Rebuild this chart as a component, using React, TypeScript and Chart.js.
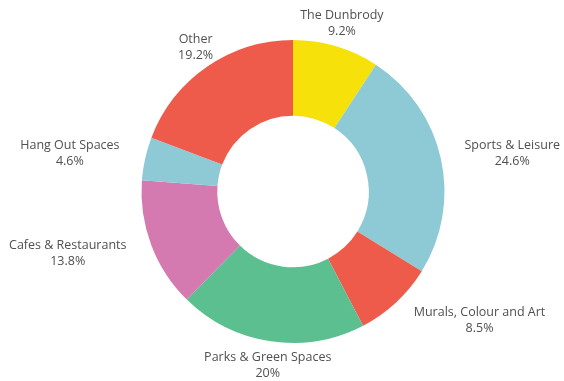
import React, { useEffect, useRef } from "react";
import { Chart, registerables } from "chart.js";

Chart.register(...registerables);

const categories = [
  "The Dunbrody",
  "Sports & Leisure",
  "Murals, Colour and Art",
  "Parks & Green Spaces",
  "Cafes & Restaurants",
  "Hang Out Spaces",
  "Other",
];
const values = [9.2, 24.6, 8.5, 20, 13.8, 4.6, 19.2];
const colors = ["#F6E10B", "#8DCAD5", "#EF5B4A", "#5BBF8F", "#D57AB0", "#8DCAD5", "#EF5B4A"];

const FONT = "'Open Sans', 'DejaVu Sans', sans-serif";

const outsideLabels = {
  id: "outsideLabels",
  afterDraw(chart: any) {
    const ctx = chart.ctx;
    const meta = chart.getDatasetMeta(0);
    ctx.save();
    ctx.font = `12.5px ${FONT}`;
    ctx.fillStyle = "#505050";
    ctx.textBaseline = "middle";
    meta.data.forEach((arc: any, i: number) => {
      const p = arc.getProps(["x", "y", "startAngle", "endAngle", "outerRadius"], true);
      const mid = (p.startAngle + p.endAngle) / 2;
      const r = p.outerRadius + 20;
      const ax = p.x + Math.cos(mid) * r;
      const ay = p.y + Math.sin(mid) * r + Math.sin(mid) * 4;
      const c = Math.cos(mid);
      const l1 = categories[i];
      const l2 = `${values[i]}%`;
      const w = Math.max(ctx.measureText(l1).width, ctx.measureText(l2).width);
      let cx = ax;
      if (c > 0.6) cx = ax + w / 2 + 4;
      else if (c < -0.6) cx = ax - w / 2 - 6;
      ctx.textAlign = "center";
      ctx.fillText(l1, cx, ay - 8);
      ctx.fillText(l2, cx, ay + 8);
    });
    ctx.restore();
  },
};

export default function App() {
  const ref = useRef<HTMLCanvasElement>(null);
  useEffect(() => {
    if (!ref.current) return;
    const chart = new Chart(ref.current, {
      type: "doughnut",
      data: {
        labels: categories,
        datasets: [
          {
            data: values,
            backgroundColor: colors,
            borderWidth: 0,
          },
        ],
      },
      options: {
        animation: false,
        responsive: false,
        cutout: "50%",
        layout: { padding: { left: 100, right: 78, top: 40, bottom: 38 } },
        plugins: { legend: { display: false }, tooltip: { enabled: false } },
      },
      plugins: [outsideLabels],
    });
    return () => chart.destroy();
  }, []);
  return (
    <div style={{ position: "absolute", left: 0, top: 0, width: 564, height: 381, background: "#fff" }}>
      <canvas ref={ref} width={564} height={381} style={{ width: 564, height: 381 }} />
    </div>
  );
}
